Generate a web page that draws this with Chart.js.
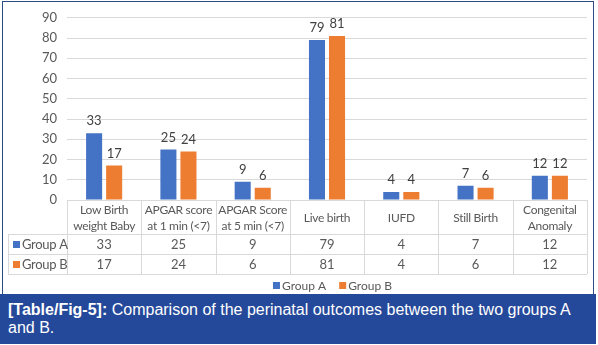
<!DOCTYPE html>
<html>
<head>
<meta charset="utf-8">
<script src="https://cdn.jsdelivr.net/npm/chart.js@4.4.1/dist/chart.umd.min.js"></script>
<style>
  body { margin: 0; width: 598px; height: 345px; background: #fff; overflow: hidden; position: relative; }
  #frame { position: absolute; left: 2px; top: 1px; width: 592px; height: 294px; border: 1px solid #2c4c86; border-bottom: none; box-sizing: border-box; }
  #chartBox { position: absolute; left: 0; top: 0; width: 598px; height: 294px; }
  #caption { position: absolute; left: 0; top: 294px; width: 596px; height: 50px; background: #25499a; color: #fff;
    font-family: "Liberation Sans", Arial, sans-serif; font-size: 16px; line-height: 18px; padding: 7px 8px; box-sizing: border-box; }
  #caption b { font-weight: bold; }
</style>
</head>
<body>
<div id="frame"></div>
<div id="chartBox"><canvas id="outcomeChart" width="598" height="294"></canvas></div>
<div id="caption"><b>[Table/Fig-5]:</b> Comparison of the perinatal outcomes between the two groups A<br>and B.</div>
<script>
const categories = [
  ["Low Birth", "weight Baby"],
  ["APGAR score", "at 1 min (<7)"],
  ["APGAR Score", "at 5 min (<7)"],
  ["Live birth"],
  ["IUFD"],
  ["Still Birth"],
  ["Congenital", "Anomaly"]
];
const groupA = [33, 25, 9, 79, 4, 7, 12];
const groupB = [17, 24, 6, 81, 4, 6, 12];
const seriesNames = ["Group A", "Group B"];
const seriesColors = ["#4472c4", "#ed7d31"];

const FONT = "Lato, 'Open Sans', sans-serif";
const TEXT = "#595959";
const LINE = "#d9d9d9";

// values above each bar
const barLabels = {
  id: 'barLabels',
  afterDatasetsDraw(chart) {
    const ctx = chart.ctx;
    ctx.save();
    ctx.font = "13px " + FONT;
    ctx.fillStyle = "#404040";
    ctx.textAlign = "center";
    ctx.textBaseline = "middle";
    chart.data.datasets.forEach((ds, di) => {
      chart.getDatasetMeta(di).data.forEach((bar, i) => {
        ctx.fillText(ds.data[i], bar.x, bar.y - 12);
      });
    });
    ctx.restore();
  }
};

// excel style data table + legend under the plot
const dataTable = {
  id: 'dataTable',
  afterDraw(chart) {
    const ctx = chart.ctx;
    const xs = chart.scales.x;
    const n = categories.length;
    const catW = xs.getPixelForValue(1) - xs.getPixelForValue(0);
    const left = xs.getPixelForValue(0) - catW / 2;
    const right = left + catW * n;
    const top = chart.chartArea.bottom;
    const headBottom = top + 34;
    const rowH = 20;
    const tableBottom = headBottom + rowH * 2;
    const labelLeft = 8;

    ctx.save();
    ctx.strokeStyle = LINE;
    ctx.lineWidth = 1;
    ctx.beginPath();
    [headBottom, headBottom + rowH, tableBottom].forEach(y => {
      ctx.moveTo(labelLeft, y + 0.5);
      ctx.lineTo(right, y + 0.5);
    });
    ctx.moveTo(left, top + 0.5);
    ctx.lineTo(right, top + 0.5);
    for (let i = 0; i <= n; i++) {
      const x = Math.round(left + catW * i) + 0.5;
      ctx.moveTo(x, top);
      ctx.lineTo(x, tableBottom);
    }
    ctx.moveTo(labelLeft + 0.5, headBottom);
    ctx.lineTo(labelLeft + 0.5, tableBottom);
    ctx.stroke();

    ctx.fillStyle = TEXT;
    ctx.font = "12px " + FONT;
    ctx.letterSpacing = "-0.3px";
    ctx.textAlign = "center";
    ctx.textBaseline = "middle";
    categories.forEach((lab, i) => {
      const cx = xs.getPixelForValue(i);
      const mid = (top + headBottom) / 2 + 1;
      lab.forEach((line, k) => {
        const y = mid + (k - (lab.length - 1) / 2) * 16;
        ctx.fillText(line, cx, y);
      });
    });
    ctx.letterSpacing = "0px";

    ctx.font = "13px " + FONT;
    const rows = [groupA, groupB];
    rows.forEach((vals, r) => {
      const y = headBottom + rowH * r + rowH / 2 + 1;
      vals.forEach((v, i) => ctx.fillText(v, xs.getPixelForValue(i), y));
      ctx.fillStyle = seriesColors[r];
      ctx.fillRect(13, y - 4, 7, 7);
      ctx.fillStyle = TEXT;
      ctx.textAlign = "left";
      ctx.letterSpacing = "-0.3px";
      ctx.fillText(seriesNames[r], 22, y);
      ctx.letterSpacing = "0px";
      ctx.textAlign = "center";
    });

    // legend
    ctx.font = "12px " + FONT;
    ctx.textAlign = "left";
    const ly = 286;
    const widths = seriesNames.map(s => ctx.measureText(s).width);
    const total = widths.reduce((a, w) => a + w + 10, 0) + 12;
    let lx = (left + right) / 2 - total / 2 + 6;
    seriesNames.forEach((s, i) => {
      ctx.fillStyle = seriesColors[i];
      ctx.fillRect(lx, ly - 4, 7, 7);
      ctx.fillStyle = TEXT;
      ctx.fillText(s, lx + 9, ly);
      lx += widths[i] + 10 + 12;
    });
    ctx.restore();
  }
};

new Chart(document.getElementById('outcomeChart'), {
  type: 'bar',
  data: {
    labels: categories,
    datasets: [
      { label: seriesNames[0], data: groupA, backgroundColor: seriesColors[0] },
      { label: seriesNames[1], data: groupB, backgroundColor: seriesColors[1] }
    ]
  },
  options: {
    responsive: false,
    animation: false,
    events: [],
    categoryPercentage: 0.54,
    barPercentage: 0.8,
    layout: { padding: { left: 0, top: 9, right: 11, bottom: 94 } },
    plugins: { legend: { display: false }, tooltip: { enabled: false } },
    scales: {
      x: { display: false },
      y: {
        min: 0, max: 90,
        afterFit: s => { s.width = 67; },
        ticks: { stepSize: 10, padding: 10, color: TEXT, font: { family: FONT, size: 13 } },
        grid: { color: LINE, drawTicks: false },
        border: { display: false }
      }
    }
  },
  plugins: [barLabels, dataTable]
});
</script>
</body>
</html>
